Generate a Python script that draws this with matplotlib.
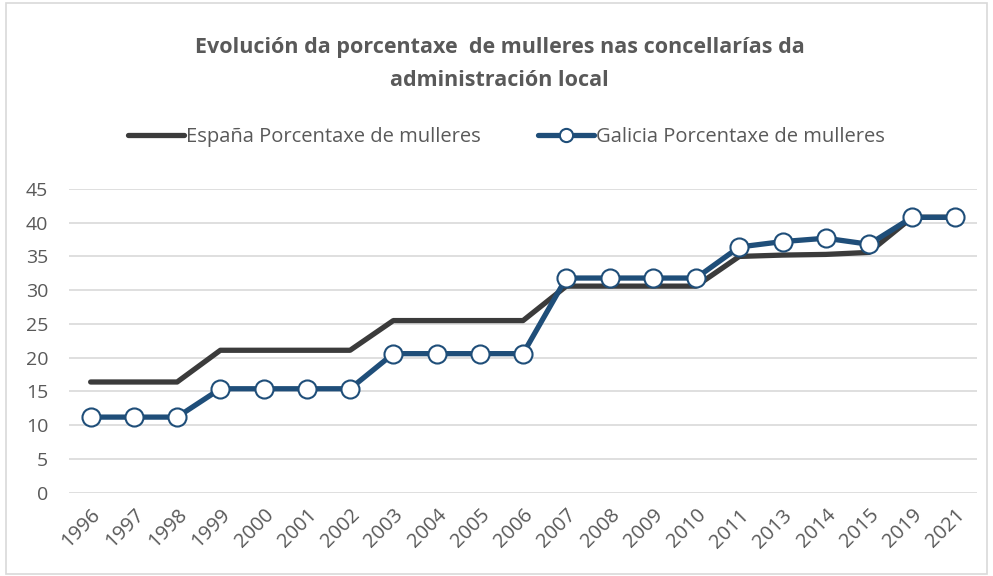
import matplotlib.pyplot as plt
from matplotlib.patches import Rectangle

# datos
years = ['1996', '1997', '1998', '1999', '2000', '2001', '2002', '2003', '2004', '2005',
         '2006', '2007', '2008', '2009', '2010', '2011', '2013', '2014', '2015', '2019', '2021']
espana = [16.4, 16.4, 16.4, 21.1, 21.1, 21.1, 21.1, 25.5, 25.5, 25.5,
          25.5, 30.6, 30.6, 30.6, 30.6, 35.0, 35.2, 35.3, 35.6, 40.8, 40.8]
galicia = [11.2, 11.2, 11.2, 15.4, 15.4, 15.4, 15.4, 20.6, 20.6, 20.6,
           20.6, 31.8, 31.8, 31.8, 31.8, 36.4, 37.2, 37.7, 36.8, 40.8, 40.8]
yticks = list(range(0, 50, 5))

plt.rcParams['font.family'] = ['Open Sans', 'DejaVu Sans']
gray = '#595959'

fig = plt.figure(figsize=(9.93, 5.76), dpi=100)
fig.patches.append(Rectangle((0.006, 0.004), 0.988, 0.99, transform=fig.transFigure,
                             fill=False, edgecolor='#d9d9d9', linewidth=1.2))

ax = fig.add_axes([0.0695, 0.1446, 0.9145, 0.5274])
x = list(range(len(years)))
ax.plot(x, espana, color='#3b3b3b', linewidth=3.8, solid_capstyle='round',
        label='España Porcentaxe de mulleres', zorder=3)
ax.plot(x, galicia, color='#1f4e79', linewidth=3.8, marker='o', markersize=13,
        markerfacecolor='white', markeredgecolor='#1f4e79', markeredgewidth=1.5,
        solid_capstyle='round', label='Galicia Porcentaxe de mulleres', zorder=4)

ax.set_xlim(-0.5, len(years) - 0.5)
ax.set_ylim(0, 45)
ax.set_yticks(yticks)
ax.set_xticks(x)
ax.set_xticklabels(years, rotation=45, ha='right', rotation_mode='anchor')
ax.tick_params(axis='both', length=0, labelsize=14, colors=gray)
ax.tick_params(axis='x', labelsize=14.5, pad=9)
ax.tick_params(axis='y', pad=15)
ax.grid(axis='y', color='#d9d9d9', linewidth=1.2)
ax.set_axisbelow(True)
for s in ax.spines.values():
    s.set_visible(False)

fig.text(0.503, 0.917, 'Evolución da porcentaxe  de mulleres nas concellarías da',
         ha='center', va='center', fontsize=15.5, fontweight='bold', color=gray)
fig.text(0.503, 0.860, 'administración local',
         ha='center', va='center', fontsize=15.5, fontweight='bold', color=gray)

leg = fig.legend(loc='center', bbox_to_anchor=(0.51, 0.762), ncol=2, frameon=False,
                 fontsize=14.5, labelcolor=gray, handlelength=2.8, handletextpad=0.1,
                 columnspacing=2.8)
leg.legend_handles[1].set_markersize(9.5)

fig.savefig('out.png', dpi=100)
